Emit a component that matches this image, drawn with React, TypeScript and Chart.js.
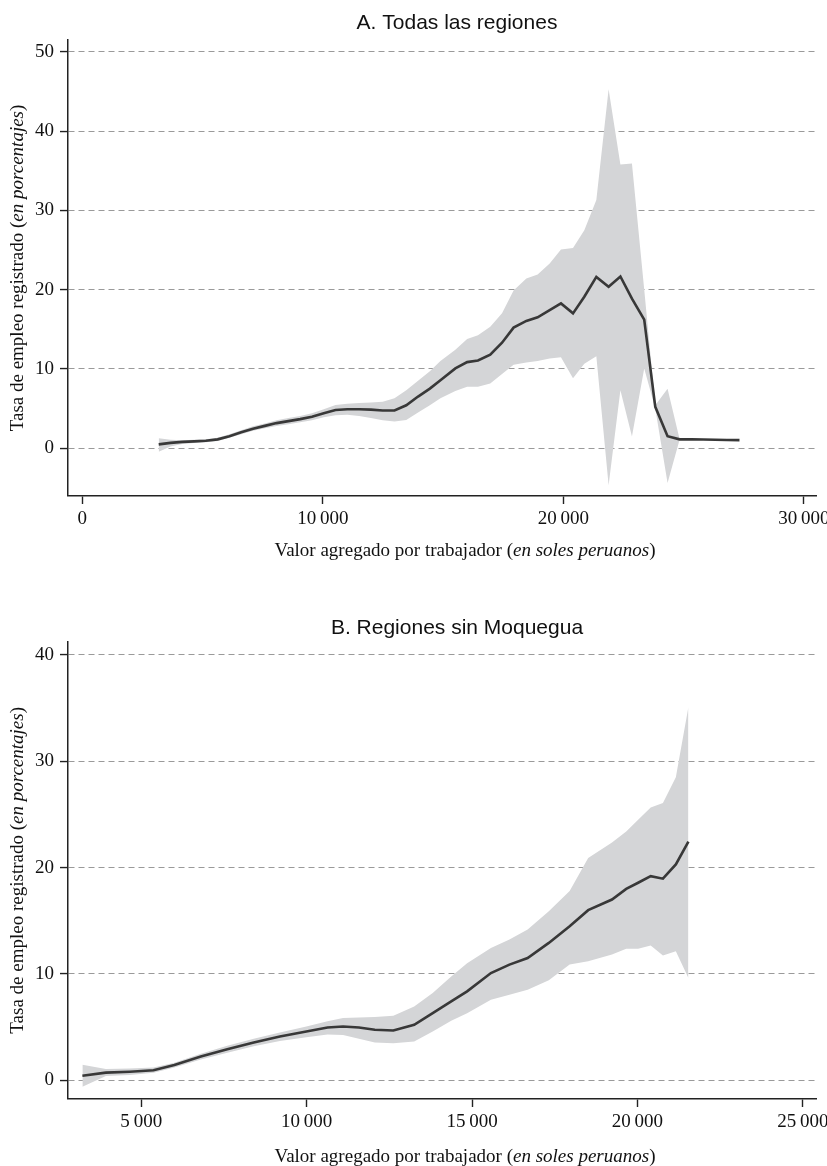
import React, { useEffect, useRef } from 'react';
import { Chart, registerables } from 'chart.js';

Chart.register(...registerables);

// ---------- Panel A: Todas las regiones ----------
const titleA = 'A. Todas las regiones';
const xA = [3180, 3670, 4160, 4650, 5140, 5630, 6120, 6610, 7100, 7590, 8080, 8570, 9060, 9550, 10040, 10530, 11020, 11510, 12000, 12490, 12980, 13470, 13960, 14450, 14890, 15510, 16000, 16450, 16960, 17450, 17930, 18460, 18930, 19430, 19900, 20400, 20870, 21370, 21880, 22370, 22850, 23360, 23820, 24330, 24830, 25340, 25820, 26310, 26790, 27320];
const meanA = [0.47, 0.65, 0.78, 0.85, 0.92, 1.1, 1.5, 2.0, 2.45, 2.8, 3.15, 3.4, 3.65, 3.95, 4.4, 4.8, 4.9, 4.9, 4.85, 4.75, 4.75, 5.4, 6.5, 7.5, 8.55, 10.05, 10.85, 11.05, 11.8, 13.3, 15.2, 16.05, 16.5, 17.4, 18.25, 17.0, 19.1, 21.6, 20.35, 21.65, 18.85, 16.2, 5.2, 1.5, 1.1, 1.1, 1.08, 1.05, 1.02, 1.0];
const upperA = [1.25, 1.05, 1.0, 1.05, 1.1, 1.3, 1.75, 2.25, 2.75, 3.1, 3.5, 3.8, 4.05, 4.4, 4.9, 5.45, 5.6, 5.7, 5.75, 5.85, 6.3, 7.3, 8.5, 9.7, 11.0, 12.4, 13.75, 14.25, 15.3, 17.0, 19.9, 21.4, 21.9, 23.3, 25.05, 25.25, 27.5, 31.3, 45.3, 35.8, 35.9, 20.0, 5.4, 7.5, 1.15, 1.1, 1.08, 1.05, 1.02, 1.0];
const lowerA = [-0.45, 0.2, 0.5, 0.65, 0.72, 0.9, 1.3, 1.75, 2.2, 2.5, 2.8, 3.0, 3.25, 3.5, 3.9, 4.15, 4.2, 4.05, 3.8, 3.5, 3.35, 3.55, 4.5, 5.4, 6.3, 7.2, 7.75, 7.75, 8.15, 9.35, 10.5, 10.8, 11.0, 11.3, 11.45, 8.8, 10.65, 11.6, -4.7, 7.3, 1.45, 10.05, 5.0, -4.4, 1.05, 1.1, 1.08, 1.05, 1.02, 1.0];
const yTicksA = [0, 10, 20, 30, 40, 50];
const yTickLabelsA = ['0', '10', '20', '30', '40', '50'];
const xTicksA = [0, 10000, 20000, 30000];
const xTickLabelsA = ['0', '10\u2009000', '20\u2009000', '30\u2009000'];

// ---------- Panel B: Regiones sin Moquegua ----------
const titleB = 'B. Regiones sin Moquegua';
const xB = [3220, 3930, 4650, 5370, 6000, 6800, 7600, 8400, 9190, 9990, 10630, 11100, 11580, 12060, 12620, 13250, 13810, 14370, 14850, 15570, 16130, 16680, 17320, 17950, 18510, 19230, 19660, 20020, 20400, 20770, 21160, 21540];
const meanB = [0.43, 0.72, 0.81, 0.94, 1.44, 2.23, 2.92, 3.55, 4.11, 4.58, 4.96, 5.06, 4.96, 4.75, 4.68, 5.22, 6.32, 7.42, 8.36, 10.09, 10.88, 11.5, 12.92, 14.49, 16.0, 17.0, 18.0, 18.58, 19.2, 18.96, 20.3, 22.45];
const upperB = [1.45, 1.05, 1.1, 1.2, 1.65, 2.5, 3.25, 3.9, 4.5, 5.05, 5.55, 5.85, 5.9, 5.95, 6.07, 6.94, 8.2, 9.77, 11.0, 12.45, 13.24, 14.18, 15.9, 17.8, 20.9, 22.36, 23.4, 24.5, 25.66, 26.07, 28.5, 35.1];
const lowerB = [-0.6, 0.4, 0.5, 0.7, 1.2, 1.95, 2.6, 3.2, 3.7, 4.05, 4.3, 4.25, 3.9, 3.55, 3.49, 3.64, 4.58, 5.6, 6.3, 7.58, 8.05, 8.52, 9.4, 10.9, 11.2, 11.82, 12.36, 12.36, 12.67, 11.73, 12.13, 9.62];
const yTicksB = [0, 10, 20, 30, 40];
const yTickLabelsB = ['0', '10', '20', '30', '40'];
const xTicksB = [5000, 10000, 15000, 20000, 25000];
const xTickLabelsB = ['5\u2009000', '10\u2009000', '15\u2009000', '20\u2009000', '25\u2009000'];

// ---------- shared texts ----------
const xTitleParts: [string, boolean][] = [['Valor agregado por trabajador (', false], ['en soles peruanos', true], [')', false]];
const yTitleParts: [string, boolean][] = [['Tasa de empleo registrado (', false], ['en porcentajes', true], [')', false]];

const SERIF = '"Liberation Serif", "Times New Roman", Times, serif';
const SANS = '"Liberation Sans", Arial, Helvetica, sans-serif';

function drawMixed(ctx: CanvasRenderingContext2D, parts: [string, boolean][], size: number) {
  const widths = parts.map(([t, it]) => {
    ctx.font = `${it ? 'italic ' : ''}${size}px ${SERIF}`;
    return ctx.measureText(t).width;
  });
  const total = widths.reduce((a, b) => a + b, 0);
  let x = -total / 2;
  ctx.textAlign = 'left';
  ctx.textBaseline = 'alphabetic';
  parts.forEach(([t, it], i) => {
    ctx.font = `${it ? 'italic ' : ''}${size}px ${SERIF}`;
    ctx.fillText(t, x, 0);
    x += widths[i];
  });
}

const decorPlugin = {
  id: 'decor',
  afterDraw(chart: any, _args: any, opts: any) {
    const ctx: CanvasRenderingContext2D = chart.ctx;
    const ca = chart.chartArea;
    ctx.save();
    ctx.fillStyle = '#111';
    ctx.font = `21px ${SANS}`;
    ctx.textAlign = 'center';
    ctx.textBaseline = 'alphabetic';
    ctx.fillText(opts.title, opts.titleX, opts.titleBaseline);

    ctx.save();
    ctx.translate(opts.xTitleX, opts.xTitleBaseline);
    drawMixed(ctx, xTitleParts, 19);
    ctx.restore();

    ctx.save();
    ctx.translate(opts.yTitleBaselineX, (ca.top + ca.bottom) / 2);
    ctx.rotate(-Math.PI / 2);
    drawMixed(ctx, yTitleParts, 19);
    ctx.restore();

    ctx.restore();
  },
};

type PanelCfg = {
  top: number;
  height: number;
  areaTop: number;
  areaBottom: number;
  xs: number[];
  mean: number[];
  upper: number[];
  lower: number[];
  xMin: number;
  xMax: number;
  yMin: number;
  yMax: number;
  xTicks: number[];
  xTickLabels: string[];
  yTicks: number[];
  yTickLabels: string[];
  title: string;
  titleBaseline: number;
  xTitleBaseline: number;
};

function Panel({ cfg }: { cfg: PanelCfg }) {
  const ref = useRef<HTMLCanvasElement | null>(null);
  useEffect(() => {
    if (!ref.current) return;
    const xAxisH = 40;
    const pts = (ys: number[]) => cfg.xs.map((x, i) => ({ x, y: ys[i] }));
    const chart = new Chart(ref.current, {
      type: 'line',
      data: {
        datasets: [
          {
            data: pts(cfg.mean),
            borderColor: '#383838',
            borderWidth: 2.6,
            pointRadius: 0,
            fill: false,
            tension: 0,
          },
          {
            data: pts(cfg.upper),
            borderColor: 'rgba(0,0,0,0)',
            borderWidth: 0,
            pointRadius: 0,
            backgroundColor: '#d4d5d7',
            fill: '+1',
            tension: 0,
          },
          {
            data: pts(cfg.lower),
            borderColor: 'rgba(0,0,0,0)',
            borderWidth: 0,
            pointRadius: 0,
            fill: false,
            tension: 0,
          },
        ],
      } as any,
      options: {
        animation: false,
        responsive: false,
        maintainAspectRatio: false,
        devicePixelRatio: 1,
        events: [],
        layout: {
          padding: {
            top: cfg.areaTop,
            left: 0,
            right: 827 - 816,
            bottom: cfg.height - cfg.areaBottom - xAxisH,
          },
        },
        plugins: {
          legend: { display: false },
          title: { display: false },
          tooltip: { enabled: false },
          decor: {
            title: cfg.title,
            titleX: 457,
            titleBaseline: cfg.titleBaseline,
            xTitleX: 465,
            xTitleBaseline: cfg.xTitleBaseline,
            yTitleBaselineX: 23,
          },
        } as any,
        scales: {
          x: {
            type: 'linear',
            min: cfg.xMin,
            max: cfg.xMax,
            bounds: 'data',
            afterFit: (s: any) => {
              s.height = xAxisH;
              s.paddingLeft = 0;
              s.paddingRight = 0;
            },
            afterBuildTicks: (s: any) => {
              s.ticks = cfg.xTicks.map((v) => ({ value: v }));
            },
            ticks: {
              autoSkip: false,
              maxRotation: 0,
              minRotation: 0,
              padding: 4,
              color: '#111',
              font: { family: SERIF, size: 19 },
              callback: (_v: any, i: number) => cfg.xTickLabels[i],
            },
            grid: {
              drawOnChartArea: false,
              drawTicks: true,
              tickLength: 8,
              tickColor: '#222',
              tickWidth: 1.4,
            },
            border: { display: true, color: '#222', width: 1.5 },
          },
          y: {
            type: 'linear',
            min: cfg.yMin,
            max: cfg.yMax,
            bounds: 'data',
            afterFit: (s: any) => {
              s.width = 68;
              s.paddingTop = 0;
              s.paddingBottom = 0;
            },
            afterBuildTicks: (s: any) => {
              s.ticks = cfg.yTicks.map((v) => ({ value: v }));
            },
            ticks: {
              autoSkip: false,
              padding: 6,
              color: '#111',
              font: { family: SERIF, size: 19 },
              callback: (_v: any, i: number) => cfg.yTickLabels[i],
            },
            grid: {
              drawOnChartArea: true,
              drawTicks: true,
              tickLength: 8,
              tickColor: '#222',
              tickWidth: 1.4,
              color: '#9a9a9a',
              lineWidth: 1.1,
            },
            border: { display: true, color: '#222', width: 1.5, dash: [6, 4] },
          },
        },
      } as any,
      plugins: [decorPlugin as any],
    });
    return () => chart.destroy();
  }, [cfg]);
  return (
    <canvas
      ref={ref}
      width={827}
      height={cfg.height}
      style={{ position: 'absolute', left: 0, top: cfg.top, width: 827, height: cfg.height, display: 'block' }}
    />
  );
}

const panelA: PanelCfg = {
  top: 0,
  height: 575,
  areaTop: 40,
  areaBottom: 496,
  xs: xA,
  mean: meanA,
  upper: upperA,
  lower: lowerA,
  xMin: -590,
  xMax: 30500,
  yMin: -6.05,
  yMax: 51.5,
  xTicks: xTicksA,
  xTickLabels: xTickLabelsA,
  yTicks: yTicksA,
  yTickLabels: yTickLabelsA,
  title: titleA,
  titleBaseline: 28.5,
  xTitleBaseline: 556,
};

const panelB: PanelCfg = {
  top: 575,
  height: 591,
  areaTop: 66.7,
  areaBottom: 524,
  xs: xB,
  mean: meanB,
  upper: upperB,
  lower: lowerB,
  xMin: 2785,
  xMax: 25397,
  yMin: -1.76,
  yMax: 41.25,
  xTicks: xTicksB,
  xTickLabels: xTickLabelsB,
  yTicks: yTicksB,
  yTickLabels: yTickLabelsB,
  title: titleB,
  titleBaseline: 59,
  xTitleBaseline: 587,
};

export default function App() {
  return (
    <div style={{ position: 'absolute', left: 0, top: 0, width: 827, height: 1166, background: '#fff', overflow: 'hidden' }}>
      <Panel cfg={panelA} />
      <Panel cfg={panelB} />
    </div>
  );
}
